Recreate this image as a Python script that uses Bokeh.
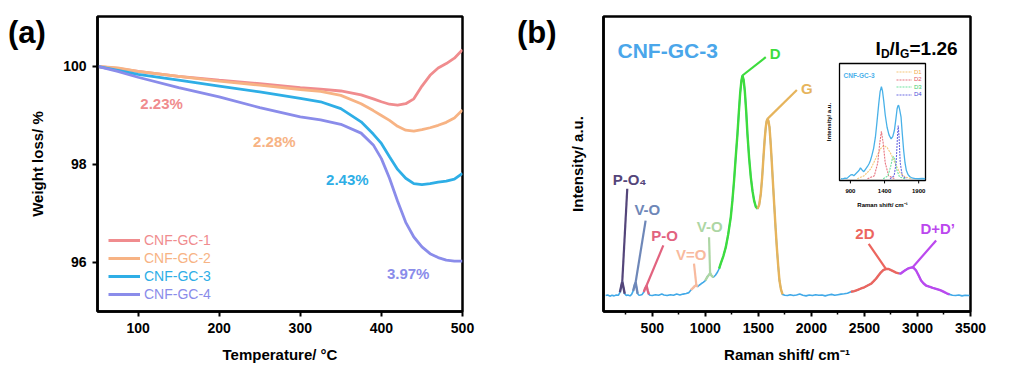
import numpy as np
from bokeh.plotting import figure
from bokeh.models import Range1d, FixedTicker, Label, Legend, LegendItem, Div
from bokeh.layouts import row
from bokeh.embed import file_html
from bokeh.resources import INLINE
from bokeh.core.properties import value

FONT = "Liberation Sans"

# ---------------- (a) TGA data ----------------
temp_c = [50, 75, 100, 150, 200, 250, 300, 325, 350, 375, 390, 400, 410, 420, 430, 440, 450, 460, 470, 480, 490, 500]
gc1 = [100.0, 99.96, 99.9, 99.8, 99.72, 99.65, 99.57, 99.54, 99.5, 99.42, 99.34, 99.28, 99.23, 99.21, 99.24, 99.34, 99.6, 99.82, 99.97, 100.06, 100.17, 100.34]
gc2 = [100.0, 99.97, 99.9, 99.8, 99.7, 99.62, 99.53, 99.49, 99.41, 99.24, 99.1, 99.0, 98.9, 98.78, 98.7, 98.68, 98.71, 98.75, 98.8, 98.86, 98.95, 99.11]
gc3 = [100.0, 99.92, 99.84, 99.72, 99.6, 99.48, 99.35, 99.28, 99.14, 98.87, 98.62, 98.43, 98.16, 97.9, 97.72, 97.61, 97.59, 97.61, 97.64, 97.66, 97.7, 97.82]
gc4 = [100.0, 99.9, 99.78, 99.57, 99.38, 99.16, 98.97, 98.91, 98.82, 98.64, 98.4, 98.12, 97.72, 97.25, 96.82, 96.52, 96.32, 96.18, 96.1, 96.05, 96.03, 96.03]
series_names = ["CNF-GC-1", "CNF-GC-2", "CNF-GC-3", "CNF-GC-4"]
series_colors = ["#F08C8E", "#F7B384", "#2EAEE6", "#8A8CEA"]
loss_text = ["2.23%", "2.28%", "2.43%", "3.97%"]
loss_x = [129, 268, 358, 433]
loss_y = [99.24, 98.47, 97.69, 95.78]

# ---------------- (b) Raman data ----------------
raman_x = [60, 80, 100, 120, 140, 160, 180, 195, 207, 217, 228, 240, 255, 270, 290, 305, 320, 333, 343, 352, 362, 375,
           390, 405, 420, 433, 446, 456, 468, 480, 500, 530, 560, 590, 610, 640, 670, 700, 730, 760, 790, 820, 845,
           865, 885, 900, 915, 928, 942, 960, 980, 1000, 1020, 1035, 1045, 1058, 1076, 1095, 1114, 1130, 1145, 1170,
           1193, 1215, 1240, 1255, 1271, 1287, 1303, 1316, 1328, 1340, 1350, 1361, 1372, 1385, 1397, 1413, 1429,
           1445, 1460, 1476, 1492, 1508, 1523, 1536, 1548, 1560, 1570, 1578, 1586, 1595, 1605, 1614, 1624, 1637,
           1649, 1662, 1674, 1687, 1699, 1713, 1728, 1750, 1775, 1800, 1830, 1860, 1890, 1920, 1950, 1980, 2010,
           2040, 2070, 2100, 2130, 2160, 2190, 2220, 2250, 2280, 2310, 2340, 2373, 2405, 2436, 2468, 2499, 2530,
           2562, 2585, 2609, 2632, 2656, 2680, 2704, 2728, 2751, 2775, 2798, 2815, 2830, 2845, 2861, 2885, 2908,
           2930, 2955, 2970, 2987, 3010, 3034, 3058, 3081, 3112, 3144, 3175, 3207, 3230, 3254, 3280, 3302, 3330,
           3360, 3390, 3420, 3450, 3490]
raman_y = [5.4, 5.6, 5.2, 5.5, 5.3, 5.6, 5.5, 6.5, 8.6, 10.2, 8.2, 6.0, 5.4, 5.6, 5.3, 5.8, 7.0, 8.9, 9.9, 8.0, 6.0, 5.5,
           5.6, 5.8, 6.6, 7.9, 8.8, 7.2, 5.8, 5.5, 5.4, 5.7, 5.5, 5.9, 5.6, 5.4, 5.7, 5.5, 5.9, 5.6, 5.9, 6.1, 6.4,
           7.3, 8.0, 8.6, 9.0, 8.4, 8.9, 9.4, 9.9, 10.5, 11.8, 12.5, 13.0, 12.2, 11.6, 12.3, 13.3, 14.5, 16.2, 18.8,
           21.8, 26.0, 32.0, 37.5, 44.4, 52.5, 60.2, 67.5, 73.8, 78.2, 80.0, 78.5, 74.9, 68.0, 60.2, 52.0, 45.5,
           40.8, 37.6, 35.5, 34.8, 36.2, 39.9, 45.5, 52.3, 58.5, 62.5, 64.5, 65.3, 64.6, 62.5, 58.0, 52.3, 44.0,
           36.5, 28.5, 21.8, 15.5, 10.5, 7.5, 5.8, 5.5, 5.4, 5.7, 5.4, 5.6, 5.9, 5.5, 5.3, 5.6, 5.4,
           5.7, 5.5, 5.6, 5.3, 5.6, 5.8, 5.5, 5.7, 5.9, 6.0, 6.2, 6.7, 6.9, 7.3, 7.8, 8.2, 8.8,
           9.4, 10.2, 11.1, 12.2, 13.3, 14.1, 14.4, 14.4, 14.0, 13.6, 13.2, 13.0, 12.9, 12.9, 13.4, 14.0, 14.5,
           14.8, 15.0, 14.6, 13.9, 12.3, 10.5, 9.5, 8.8, 8.4, 8.0, 7.7, 7.3, 7.0, 6.55, 6.1, 5.8, 5.5,
           5.4, 5.6, 5.3, 5.5, 5.4]

band_names = ["P-O\u2084", "V-O", "P-O", "V=O", "V-O", "D", "G", "2D", "D+D\u2019"]
band_lo = [185, 310, 420, 860, 1000, 1130, 1492, 2373, 2830]
band_hi = [250, 370, 470, 930, 1080, 1492, 1728, 2830, 3302]
band_peak = [217, 343, 446, 915, 1045, 1350, 1586, 2704, 2955]
band_colors = ["#54457A", "#6E87B8", "#E2637F", "#F8BA9E", "#ADD6A4", "#3DDC3D", "#E6B45C", "#EC655E", "#BB48EE"]
lead_x = [264, 437, 604, 893, 1035, 1570, 1863, 2540, 3176]
lead_y = [41.6, 30.8, 22.4, 16.2, 25.2, 86.2, 75.1, 22.9, 24.1]
text_x = [286, 453, 616, 868, 1041, 1658, 1958, 2505, 3191]
text_y = [44.6, 34.5, 25.6, 19.2, 28.8, 87.5, 75.5, 26.3, 28.0]

# inset data
inset_x = [760, 790, 820, 850, 880, 905, 926, 950, 975, 1000, 1025, 1047, 1070, 1096, 1120, 1150, 1175, 1193, 1215,
           1240, 1266, 1290, 1315, 1335, 1354, 1370, 1388, 1410, 1437, 1465, 1496, 1520, 1544, 1565, 1584, 1597,
           1607, 1620, 1642, 1660, 1680, 1700, 1720, 1745, 1768, 1800, 1850, 1900, 1950, 1995]
inset_y = [1.5, 1.4, 2.0, 1.8, 3.5, 4.8, 5.1, 4.0, 5.5, 7.0, 8.5, 10.8, 9.0, 7.5, 9.5, 12.0, 14.5, 17.1, 21.5,
           27.5, 37.0, 50.5, 65.5, 76.0, 80.3, 76.5, 68.0, 56.0, 45.5, 39.0, 35.6, 37.5, 42.7, 52.0, 61.3, 64.0,
           64.1, 61.0, 54.1, 40.0, 25.6, 15.0, 8.5, 5.0, 3.4, 2.2, 1.6, 1.5, 1.7, 1.5]
d1_x = [1000, 1100, 1200, 1280, 1340, 1390, 1440, 1500, 1560, 1620, 1700, 1800]
d1_y = [1.5, 4.0, 10.0, 20.0, 27.0, 30.0, 28.0, 22.0, 14.0, 7.0, 3.0, 1.5]
d2_x = [1150, 1250, 1300, 1330, 1354, 1380, 1410, 1460, 1550]
d2_y = [1.5, 4.0, 15.0, 32.0, 42.0, 32.0, 15.0, 4.0, 1.5]
d3_x = [1380, 1450, 1490, 1515, 1532, 1550, 1580, 1620, 1700]
d3_y = [1.5, 4.0, 12.0, 19.0, 20.5, 18.0, 9.0, 3.0, 1.5]
d4_x = [1480, 1540, 1570, 1590, 1600, 1612, 1630, 1660, 1720]
d4_y = [1.5, 4.0, 15.0, 38.0, 47.0, 38.0, 15.0, 4.0, 1.5]
comp_names = ["D1", "D2", "D3", "D4"]
comp_colors = ["#F5C77A", "#E8737E", "#6FE3A0", "#6C6CE2"]
comp_text_colors = ["#F0A94A", "#E0525F", "#3CCB6E", "#4A4AD8"]
inset_ticks = [900, 1400, 1900]


def style_axes(p):
    for ax in p.axis:
        ax.axis_line_width = 2.5
        ax.major_tick_line_width = 2
        ax.minor_tick_line_width = 1.5
        ax.major_tick_out = 5
        ax.major_tick_in = 0
        ax.minor_tick_out = 3
        ax.minor_tick_in = 0
        ax.major_label_text_font = FONT
        ax.major_label_text_font_style = "bold"
        ax.major_label_text_font_size = "14px"
        ax.major_label_text_color = "black"
        ax.axis_label_text_font = FONT
        ax.axis_label_text_font_style = "bold"
        ax.axis_label_text_font_size = "15px"
        ax.axis_label_text_color = "black"
    p.xgrid.visible = False
    p.ygrid.visible = False
    p.outline_line_color = "black"
    p.outline_line_width = 2.5
    p.outline_line_alpha = 1


# ================= panel (a) =================
pa = figure(width=515, height=370, x_range=Range1d(50, 500), y_range=Range1d(95, 101.02),
            output_backend="svg", toolbar_location=None,
            min_border_left=97, min_border_right=53, min_border_top=16, min_border_bottom=59)
style_axes(pa)
pa.xaxis.ticker = FixedTicker(ticks=[100, 200, 300, 400, 500], minor_ticks=[])
pa.yaxis.ticker = FixedTicker(ticks=[96, 98, 100], minor_ticks=[])
pa.xaxis.axis_label = "Temperature/ \u00b0C"
pa.yaxis.axis_label = "Weight loss/ %"
pa.xaxis.major_label_standoff = 6
pa.yaxis.major_label_standoff = 6
pa.xaxis.axis_label_standoff = 10
pa.yaxis.axis_label_standoff = 14

renderers = []
for ys, c in zip([gc1, gc2, gc3, gc4], series_colors):
    renderers.append(pa.line(temp_c, ys, line_color=c, line_width=2.8))

for i, (nm, c, r) in enumerate(zip(series_names, series_colors, renderers)):
    lg = Legend(items=[LegendItem(label=nm, renderers=[r])], location=(11, 62 - 18 * i),
                glyph_width=32, glyph_height=18, label_height=18, label_standoff=4,
                label_text_font=FONT, label_text_font_size="14px", label_text_color=c,
                padding=0, margin=0, spacing=0, border_line_alpha=0, background_fill_alpha=0)
    pa.add_layout(lg)

for t, x, y, c in zip(loss_text, loss_x, loss_y, series_colors):
    pa.add_layout(Label(x=x, y=y, text=t, text_align="center", text_baseline="middle",
                        text_font=FONT, text_font_size="15px", text_font_style="bold", text_color=c))

# ================= panel (b) =================
pb = figure(width=495, height=370, x_range=Range1d(40, 3500), y_range=Range1d(0, 100),
            output_backend="svg", toolbar_location=None,
            min_border_left=88, min_border_right=40, min_border_top=16, min_border_bottom=59)
style_axes(pb)
pb.xaxis.ticker = FixedTicker(ticks=[500, 1000, 1500, 2000, 2500, 3000, 3500],
                              minor_ticks=[250, 750, 1250, 1750, 2250, 2750, 3250])
pb.yaxis.ticker = FixedTicker(ticks=[], minor_ticks=[])
pb.yaxis.major_label_text_font_size = "0px"
pb.yaxis.major_tick_out = 0
pb.yaxis.minor_tick_out = 0
pb.yaxis.major_label_standoff = 0
pb.yaxis.axis_label_standoff = 18
pb.xaxis.major_label_standoff = 6
pb.xaxis.axis_label_standoff = 10
pb.xaxis.axis_label = "Raman shift/ cm\u207b\u00b9"
pb.yaxis.axis_label = "Intensity/ a.u."

rx = np.array(raman_x, dtype=float)
ry = np.array(raman_y, dtype=float)
pb.line(rx, ry, line_color="#41A9E8", line_width=1.6)

for lo, hi, pk, c, lx, ly, tx, ty, nm in zip(band_lo, band_hi, band_peak, band_colors,
                                              lead_x, lead_y, text_x, text_y, band_names):
    m = (rx >= lo) & (rx <= hi)
    pb.line(rx[m], ry[m], line_color=c, line_width=2.4)
    py = float(np.interp(pk, rx, ry))
    pb.segment(x0=[pk], y0=[py], x1=[lx], y1=[ly], line_color=c, line_width=2.2)
    pb.text(x=[tx], y=[ty], text=[nm], text_align="center", text_baseline="middle",
            text_font=value(FONT), text_font_size="15px", text_font_style="bold", text_color=c)

pb.add_layout(Label(x=14, y=261, x_units="screen", y_units="screen", text="CNF-GC-3",
                    text_baseline="middle", text_font=FONT, text_font_size="21px",
                    text_font_style="bold", text_color="#4AA6EA"))

# I_D/I_G = 1.26 built from pieces
pieces = [("I", 272, 263, "19px"), ("D", 277.5, 258, "12px"), ("/I", 286, 263, "19px"),
          ("G", 296.5, 258, "12px"), ("=1.26", 306, 263, "19px")]
for t, x, y, fs in pieces:
    pb.add_layout(Label(x=x, y=y, x_units="screen", y_units="screen", text=t, text_baseline="alphabetic",
                        text_font=FONT, text_font_size=fs, text_font_style="bold", text_color="black"))

# ---- inset drawn on extra ranges ----
FR = (603.0, 970.0, 16.0, 311.0)      # main frame box on page (l, r, t, b)
IB = (839.0, 925.0, 63.0, 180.0)      # inset box on page
IX = (740.0, 2000.0)
IY = (0.0, 100.0)
ux = (IX[1] - IX[0]) / (IB[1] - IB[0])
uy = (IY[1] - IY[0]) / (IB[3] - IB[2])
pb.extra_x_ranges = {"ix": Range1d(IX[0] - (IB[0] - FR[0]) * ux, IX[1] + (FR[1] - IB[1]) * ux)}
pb.extra_y_ranges = {"iy": Range1d(IY[0] - (FR[3] - IB[3]) * uy, IY[1] + (IB[2] - FR[2]) * uy)}
kw = dict(x_range_name="ix", y_range_name="iy")

pb.quad(left=[IX[0]], right=[IX[1]], bottom=[IY[0]], top=[IY[1]], fill_color="white",
        line_color="black", line_width=1.3, **kw)
pb.line(inset_x, inset_y, line_color="#49B1E8", line_width=1.3, **kw)
comp_r = []
for xs, ys, c in zip([d1_x, d2_x, d3_x, d4_x], [d1_y, d2_y, d3_y, d4_y], comp_colors):
    comp_r.append(pb.line(xs, ys, line_color=c, line_width=1.1, line_dash="2 1", **kw))
pb.segment(x0=inset_ticks, y0=[IY[0]] * 3, x1=inset_ticks, y1=[IY[0] - 2.5] * 3,
           line_color="black", line_width=1, **kw)
pb.text(x=inset_ticks, y=[IY[0]] * 3, text=[str(t) for t in inset_ticks], y_offset=10,
        text_align="center", text_baseline="middle", text_font=value(FONT), text_font_size="6px",
        text_font_style="bold", text_color="black", **kw)
pb.text(x=[(IX[0] + IX[1]) / 2], y=[IY[0]], text=["Raman shift/ cm\u207b\u00b9"], y_offset=24,
        text_align="center", text_baseline="middle", text_font=value(FONT), text_font_size="6px",
        text_font_style="bold", text_color="black", **kw)
pb.text(x=[IX[0]], y=[(IY[0] + IY[1]) / 2], text=["Intensity/ a.u."], x_offset=-11, angle=np.pi / 2,
        text_align="center", text_baseline="middle", text_font=value(FONT), text_font_size="6px",
        text_font_style="bold", text_color="black", **kw)
pb.text(x=[IX[0]], y=[IY[1]], text=["CNF-GC-3"], x_offset=4, y_offset=12,
        text_align="left", text_baseline="middle", text_font=value(FONT), text_font_size="6.5px",
        text_font_style="bold", text_color="#4AB0EA", **kw)

for i, (nm, tc, r) in enumerate(zip(comp_names, comp_text_colors, comp_r)):
    lg = Legend(items=[LegendItem(label=nm, renderers=[r])], location=(293, 236 - 7.6 * i),
                glyph_width=16, glyph_height=7, label_height=7, label_standoff=2,
                label_text_font=FONT, label_text_font_size="6px", label_text_color=tc,
                padding=0, margin=0, spacing=0, border_line_alpha=0, background_fill_alpha=0)
    pb.add_layout(lg)

# panel tags (a), (b): outside the plot frames, so placed as absolutely positioned text
tag_style = {"position": "absolute", "font-family": FONT, "font-weight": "bold",
             "font-size": "31px", "line-height": "1", "color": "black", "margin": "0"}
tag_a = Div(text="(a)", width=50, height=36, styles=dict(tag_style, left="8px", top="17px"))
tag_b = Div(text="(b)", width=50, height=36, styles=dict(tag_style, left="517px", top="17px"))

layout = row(pa, pb, tag_a, tag_b)
open("out.html", "w").write(file_html(layout, INLINE))
